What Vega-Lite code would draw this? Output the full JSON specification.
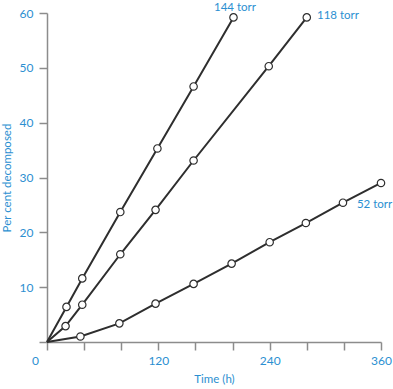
{
  "$schema": "https://vega.github.io/schema/vega-lite/v6.json",
  "width": 334,
  "height": 329,
  "autosize": {"type": "none"},
  "padding": {"left": 47, "top": 13, "right": 12, "bottom": 47},
  "background": "white",
  "config": {"view": {"stroke": null}, "font": "Lato"},
  "datasets": {
    "series": [
      {"series": "144 torr", "t": 0, "v": 0},
      {"series": "144 torr", "t": 21, "v": 6.4},
      {"series": "144 torr", "t": 38, "v": 11.6},
      {"series": "144 torr", "t": 79, "v": 23.7},
      {"series": "144 torr", "t": 119, "v": 35.3},
      {"series": "144 torr", "t": 158, "v": 46.6},
      {"series": "144 torr", "t": 201, "v": 59.2},
      {"series": "118 torr", "t": 0, "v": 0},
      {"series": "118 torr", "t": 20, "v": 2.9},
      {"series": "118 torr", "t": 38, "v": 6.8},
      {"series": "118 torr", "t": 79, "v": 16.0},
      {"series": "118 torr", "t": 117, "v": 24.1},
      {"series": "118 torr", "t": 158, "v": 33.1},
      {"series": "118 torr", "t": 239, "v": 50.3},
      {"series": "118 torr", "t": 280, "v": 59.2},
      {"series": "52 torr", "t": 0, "v": 0},
      {"series": "52 torr", "t": 36, "v": 1.0},
      {"series": "52 torr", "t": 78, "v": 3.4},
      {"series": "52 torr", "t": 117, "v": 7.0},
      {"series": "52 torr", "t": 158, "v": 10.6},
      {"series": "52 torr", "t": 199, "v": 14.3},
      {"series": "52 torr", "t": 240, "v": 18.2},
      {"series": "52 torr", "t": 279, "v": 21.7},
      {"series": "52 torr", "t": 319, "v": 25.4},
      {"series": "52 torr", "t": 360, "v": 29.0}
    ],
    "labels": [
      {"label": "144 torr", "t": 180, "v": 60.9},
      {"label": "118 torr", "t": 291, "v": 59.5},
      {"label": "52 torr", "t": 334, "v": 24.9}
    ]
  },
  "encoding": {
    "x": {
      "field": "t",
      "type": "quantitative",
      "scale": {"domain": [0, 360], "nice": false, "zero": false},
      "axis": {
        "values": [0, 40, 80, 120, 160, 200, 240, 280, 320, 360],
        "labelExpr": "datum.value % 120 == 0 ? datum.label : ''",
        "labelFlush": false,
        "labelOverlap": false,
        "labelOffset": {"condition": {"test": "datum.value == 0", "value": -12}, "value": 0},
        "grid": false,
        "tickSize": 8,
        "tickWidth": 1.5,
        "tickColor": "#8c8c8c",
        "domainColor": "#8c8c8c",
        "domainWidth": 1.5,
        "labelColor": "#2b8fd1",
        "labelFontSize": 12,
        "labelPadding": 5,
        "title": "Time (h)",
        "titleColor": "#2b8fd1",
        "titleFontSize": 11.5,
        "titleFontWeight": "normal",
        "titlePadding": 7
      }
    },
    "y": {
      "field": "v",
      "type": "quantitative",
      "scale": {"domain": [0, 60], "nice": false},
      "axis": {
        "values": [0, 10, 20, 30, 40, 50, 60],
        "labelExpr": "datum.value == 0 ? '' : datum.label",
        "grid": false,
        "tickSize": 8,
        "tickWidth": 1.5,
        "tickColor": "#8c8c8c",
        "domainColor": "#8c8c8c",
        "domainWidth": 1.5,
        "labelColor": "#2b8fd1",
        "labelFontSize": 12,
        "labelPadding": 6,
        "title": "Per cent decomposed",
        "titleColor": "#2b8fd1",
        "titleFontSize": 11.5,
        "titleFontWeight": "normal",
        "titlePadding": 7
      }
    }
  },
  "layer": [
    {
      "data": {"name": "series"},
      "mark": {"type": "line", "color": "#2e2e2e", "strokeWidth": 2},
      "encoding": {
        "detail": {"field": "series"},
        "order": {"field": "t"}
      }
    },
    {
      "data": {"name": "series"},
      "transform": [{"filter": "datum.t > 0"}],
      "mark": {"type": "point", "filled": true, "fill": "white", "stroke": "#2e2e2e", "strokeWidth": 1.2, "size": 55, "opacity": 1}
    },
    {
      "data": {"name": "labels"},
      "mark": {"type": "text", "align": "left", "baseline": "middle", "color": "#2b8fd1", "fontSize": 11.5},
      "encoding": {"text": {"field": "label"}}
    }
  ]
}
